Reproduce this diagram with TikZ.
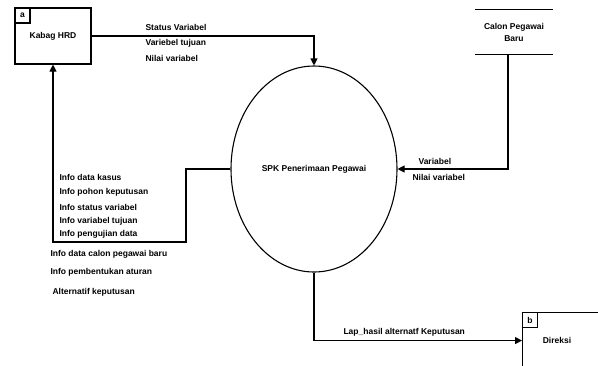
\documentclass[tikz,border=0pt]{standalone}
\usepackage{fontspec}
\setmainfont{Liberation Sans}
\usetikzlibrary{arrows,arrows.meta,shapes,positioning}

\begin{document}
\begin{tikzpicture}[x=1pt,y=-1pt,->,>={Triangle[length=7pt,width=7pt]},line width=1.1pt,
	entity/.style={rectangle,draw,minimum width=76pt,minimum height=56pt,inner sep=0pt,font=\fontsize{8.5}{10}\selectfont\bfseries},
	tag/.style={rectangle,draw,minimum width=15pt,minimum height=15pt,inner sep=0pt,font=\fontsize{8.5}{10}\selectfont\bfseries},
	proc/.style={ellipse,draw,minimum width=166pt,minimum height=206pt,inner sep=0pt,font=\fontsize{8.5}{10}\selectfont\bfseries},
	lbl/.style={inner sep=0pt,anchor=west,font=\fontsize{8.5}{10}\selectfont\bfseries}]
	
	\useasboundingbox (0,0) rectangle (598,365);
	
	\node[entity] (hrd) at (53,36) {Kabag HRD};
	\node[tag,anchor=north west] (a) at (hrd.north west) {a};
	\node[proc] (spk) at (314,169) {SPK Penerimaan Pegawai};
	\node[align=center,minimum width=76pt,minimum height=44pt,inner sep=0pt,font=\fontsize{8.5}{12}\selectfont\bfseries] (calon) at (514,32) {Calon Pegawai\\Baru};
	\node[entity,minimum width=80pt,anchor=north west] (dir) at (522,312) {};
	\node[tag,anchor=north west] (b) at (dir.north west) {b};
	\node[lbl,anchor=center] (direksi) at (557,340) {Direksi};
	\coordinate (k1) at (186,242);
	
	\draw[-] (calon.north west) -- (calon.north east);
	\draw[-] (calon.south west) -- (calon.south east);
	
	\draw (hrd.east) -| (spk.north);
	\draw ([xshift=-6pt]calon.south) |- (spk.east);
	\draw (spk.west) -| (k1) -| (hrd.south);
	\draw (spk.south) |- (dir.west);
	
	\node[lbl] (l1) at (145,27) {Status Variabel};
	\node[lbl] (l2) at (145,43) {Variebel tujuan};
	\node[lbl] (l3) at (145,58) {Nilai variabel};
	\node[lbl] (l4) at (418,161) {Variabel};
	\node[lbl] (l5) at (412,177) {Nilai variabel};
	\node[lbl] (l6) at (59,177) {Info data kasus};
	\node[lbl] (l7) at (59,192) {Info pohon keputusan};
	\node[lbl] (l8) at (59,207) {Info status variabel};
	\node[lbl] (l9) at (59,221) {Info variabel tujuan};
	\node[lbl] (l10) at (59,234) {Info pengujian data};
	\node[lbl] (l11) at (50,254) {Info data calon pegawai baru};
	\node[lbl] (l12) at (50,272) {Info pembentukan aturan};
	\node[lbl] (l13) at (52,292) {Alternatif keputusan};
	\node[lbl] (l14) at (343,332) {Lap\_hasil alternatf Keputusan};
\end{tikzpicture}
\end{document}
